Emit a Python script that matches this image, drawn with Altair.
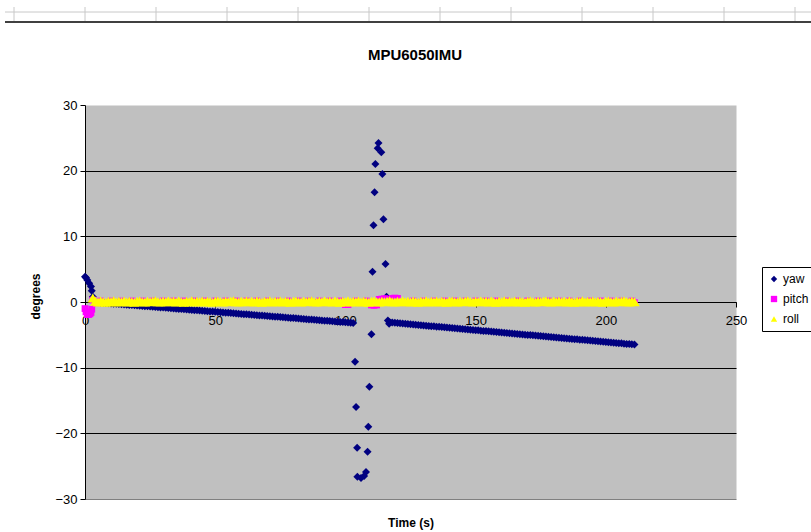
import altair as alt
import pandas as pd

series_names = ["yaw", "pitch", "roll"]
series_colors = ["#000080", "#FF00FF", "#FFFF00"]
series_shapes = ["diamond", "square", "triangle-up"]
series_sizes = [64, 46, 108]

x_ticks = [0, 50, 100, 150, 200, 250]
y_ticks = [-30, -20, -10, 0, 10, 20, 30]

chart_title = "MPU6050IMU"

# regular samples (seconds)
sample_t = [
    3, 4, 5, 6, 7, 8, 9, 10, 11, 12,
    13, 14, 15, 16, 17, 18, 19, 20, 21, 22,
    23, 24, 25, 26, 27, 28, 29, 30, 31, 32,
    33, 34, 35, 36, 37, 38, 39, 40, 41, 42,
    43, 44, 45, 46, 47, 48, 49, 50, 51, 52,
    53, 54, 55, 56, 57, 58, 59, 60, 61, 62,
    63, 64, 65, 66, 67, 68, 69, 70, 71, 72,
    73, 74, 75, 76, 77, 78, 79, 80, 81, 82,
    83, 84, 85, 86, 87, 88, 89, 90, 91, 92,
    93, 94, 95, 96, 97, 98, 99, 100, 101, 102,
    103, 104, 105, 106, 107, 108, 109, 110, 111, 112,
    113, 114, 115, 116, 117, 118, 119, 120, 121, 122,
    123, 124, 125, 126, 127, 128, 129, 130, 131, 132,
    133, 134, 135, 136, 137, 138, 139, 140, 141, 142,
    143, 144, 145, 146, 147, 148, 149, 150, 151, 152,
    153, 154, 155, 156, 157, 158, 159, 160, 161, 162,
    163, 164, 165, 166, 167, 168, 169, 170, 171, 172,
    173, 174, 175, 176, 177, 178, 179, 180, 181, 182,
    183, 184, 185, 186, 187, 188, 189, 190, 191, 192,
    193, 194, 195, 196, 197, 198, 199, 200, 201, 202,
    203, 204, 205, 206, 207, 208, 209, 210, 211,
]

N = None
yaw_v = [
    0.8, -0.02, -0.05, -0.09, -0.12, -0.15, -0.18, -0.21, -0.25, -0.28,
    -0.31, -0.34, -0.37, -0.41, -0.44, -0.47, -0.50, -0.53, -0.57, -0.60,
    -0.63, -0.66, -0.69, -0.73, -0.76, -0.79, -0.82, -0.85, -0.89, -0.92,
    -0.95, -0.98, -1.01, -1.05, -1.08, -1.11, -1.14, -1.17, -1.21, -1.24,
    -1.27, -1.30, -1.33, -1.37, -1.40, -1.43, -1.46, -1.49, -1.53, -1.56,
    -1.59, -1.62, -1.65, -1.69, -1.72, -1.75, -1.78, -1.81, -1.85, -1.88,
    -1.91, -1.94, -1.97, -2.01, -2.04, -2.07, -2.10, -2.13, -2.17, -2.20,
    -2.23, -2.26, -2.29, -2.33, -2.36, -2.39, -2.42, -2.45, -2.49, -2.52,
    -2.55, -2.58, -2.61, -2.65, -2.68, -2.71, -2.74, -2.77, -2.81, -2.84,
    -2.87, -2.90, -2.93, -2.97, -3.00, -3.03, -3.06, -3.09, -3.13, -3.16,
    -3.19, N, N, N, N, N, N, N, N, N,
    N, N, N, N, -3.10, -3.14, -3.17, -3.21, -3.24, -3.28,
    -3.32, -3.35, -3.39, -3.42, -3.46, -3.50, -3.53, -3.57, -3.60, -3.64,
    -3.68, -3.71, -3.75, -3.78, -3.82, -3.86, -3.89, -3.93, -3.96, -4.00,
    -4.04, -4.07, -4.11, -4.14, -4.18, -4.22, -4.25, -4.29, -4.32, -4.36,
    -4.40, -4.43, -4.47, -4.50, -4.54, -4.58, -4.61, -4.65, -4.68, -4.72,
    -4.76, -4.79, -4.83, -4.86, -4.90, -4.94, -4.97, -5.01, -5.04, -5.08,
    -5.12, -5.15, -5.19, -5.22, -5.26, -5.30, -5.33, -5.37, -5.40, -5.44,
    -5.48, -5.51, -5.55, -5.58, -5.62, -5.66, -5.69, -5.73, -5.76, -5.80,
    -5.84, -5.87, -5.91, -5.94, -5.98, -6.02, -6.05, -6.09, -6.12, -6.16,
    -6.20, -6.23, -6.27, -6.30, -6.34, -6.38, -6.41, -6.45, -6.48,
]

yaw_start_t = [0.0, 0.4, 0.9, 1.6, 2.3, 2.6]
yaw_start_v = [3.85, 3.7, 3.35, 2.85, 2.35, 1.7]

yaw_spike_t = [103.7, 104.1, 104.5, 104.6, 106.0, 107.2, 107.9, 108.5, 108.8, 109.2,
               110.0, 110.4, 110.8, 111.2, 111.5, 112.4, 112.7, 113.8, 114.2, 114.6,
               115.4, 115.8, 116.3, 116.8]
yaw_spike_v = [-9.1, -16.0, -22.2, -26.6, -26.8, -26.5, -25.9, -22.8, -19.0, -12.9,
               -4.9, 4.6, 11.7, 16.7, 21.0, 23.4, 24.2, 22.8, 19.5, 12.6,
               5.8, 0.8, -2.8, -3.3]

pitch_start_t = [0.0, 0.4, 0.9, 1.4, 1.9, 2.3, 2.6]
pitch_start_v = [-1.0, -1.5, -1.9, -1.9, -1.8, -1.6, -1.1]

pitch_v = [
    0.3, -0.1, -0.1, 0.15, -0.1, -0.05, -0.1, 0.15, -0.1, -0.1,
    -0.05, 0.15, -0.1, -0.1, -0.05, 0.15, -0.1, -0.1, -0.05, 0.15,
    -0.1, -0.1, -0.05, 0.15, -0.1, -0.1, -0.05, 0.15, -0.1, -0.1,
    -0.05, 0.15, -0.1, -0.1, -0.05, 0.15, -0.1, -0.1, -0.05, 0.15,
    -0.1, -0.1, -0.05, 0.15, -0.1, -0.1, -0.05, 0.15, -0.1, -0.1,
    -0.05, 0.15, -0.1, -0.1, -0.05, 0.15, -0.1, -0.1, -0.05, 0.15,
    -0.1, -0.1, -0.05, 0.15, -0.1, -0.1, -0.05, 0.15, -0.1, -0.1,
    -0.05, 0.15, -0.1, -0.1, -0.05, 0.15, -0.1, -0.1, -0.05, 0.15,
    -0.1, -0.1, -0.05, 0.15, -0.1, -0.1, -0.05, 0.15, -0.1, -0.1,
    -0.05, 0.15, -0.1, -0.1, -0.05, 0.15, -0.1, -0.4, -0.4, -0.1,
    -0.05, 0.15, -0.1, -0.1, -0.05, 0.15, -0.1, -0.45, -0.5, -0.45,
    0.4, 0.45, 0.5, 0.45, 0.4, 0.55, 0.6, 0.55, -0.1, -0.05,
    -0.1, -0.1, -0.05, 0.15, -0.1, -0.1, -0.05, 0.15, -0.1, -0.1,
    -0.05, 0.15, -0.1, -0.1, -0.05, 0.15, -0.1, -0.1, -0.05, 0.15,
    -0.1, -0.1, -0.05, 0.15, -0.1, -0.1, -0.05, 0.15, -0.1, -0.1,
    -0.05, 0.15, -0.1, -0.1, -0.05, 0.15, -0.1, -0.1, -0.05, 0.15,
    -0.1, -0.1, -0.05, 0.15, -0.1, -0.1, -0.05, 0.15, -0.1, -0.1,
    -0.05, 0.15, -0.1, -0.1, -0.05, 0.15, -0.1, -0.1, -0.05, 0.15,
    -0.1, -0.1, -0.05, 0.15, -0.1, -0.1, -0.05, 0.15, -0.1, -0.1,
    -0.05, 0.15, -0.1, -0.1, -0.05, 0.15, -0.1, -0.1, -0.05, 0.15,
    -0.1, -0.1, -0.05, 0.15, -0.1, -0.1, -0.05, 0.15, -0.1,
]

roll_v = [
    0.6, 0.1, 0.0, 0.15, 0.05, -0.05, 0.1, 0.05, 0.2, 0.0,
    0.1, 0.05, 0.15, 0.0, 0.1, 0.05, -0.05, 0.1, 0.15, 0.05,
    0.0, 0.1, 0.05, 0.1, 0.2, 0.05, 0.0, 0.1, 0.05, 0.15,
    0.05, 0.1, 0.0, 0.15, 0.05, -0.05, 0.1, 0.05, 0.2, 0.0,
    0.1, 0.05, 0.15, 0.0, 0.1, 0.05, -0.05, 0.1, 0.15, 0.05,
    0.0, 0.1, 0.05, 0.1, 0.2, 0.05, 0.0, 0.1, 0.05, 0.15,
    0.05, 0.1, 0.0, 0.15, 0.05, -0.05, 0.1, 0.05, 0.2, 0.0,
    0.1, 0.05, 0.15, 0.0, 0.1, 0.05, -0.05, 0.1, 0.15, 0.05,
    0.0, 0.1, 0.05, 0.1, 0.2, 0.05, 0.0, 0.1, 0.05, 0.15,
    0.05, 0.1, 0.0, 0.15, 0.05, -0.05, 0.1, 0.05, 0.2, 0.0,
    0.1, 0.05, 0.15, 0.0, 0.1, 0.05, -0.05, 0.1, 0.15, 0.05,
    0.0, 0.1, 0.05, 0.1, 0.2, 0.05, 0.0, 0.1, 0.05, 0.15,
    0.05, 0.1, 0.0, 0.15, 0.05, -0.05, 0.1, 0.05, 0.2, 0.0,
    0.1, 0.05, 0.15, 0.0, 0.1, 0.05, -0.05, 0.1, 0.15, 0.05,
    0.0, 0.1, 0.05, 0.1, 0.2, 0.05, 0.0, 0.1, 0.05, 0.15,
    0.05, 0.1, 0.0, 0.15, 0.05, -0.05, 0.1, 0.05, 0.2, 0.0,
    0.1, 0.05, 0.15, 0.0, 0.1, 0.05, -0.05, 0.1, 0.15, 0.05,
    0.0, 0.1, 0.05, 0.1, 0.2, 0.05, 0.0, 0.1, 0.05, 0.15,
    0.05, 0.1, 0.0, 0.15, 0.05, -0.05, 0.1, 0.05, 0.2, 0.0,
    0.1, 0.05, 0.15, 0.0, 0.1, 0.05, -0.05, 0.1, 0.15, 0.05,
    0.0, 0.1, 0.05, 0.1, 0.2, 0.05, 0.0, 0.1, 0.05,
]

# ---- build table ----
rows = []
for t, v in zip(yaw_start_t, yaw_start_v):
    rows.append({"t": t, "v": v, "series": "yaw"})
for t, v in zip(sample_t, yaw_v):
    if v is not None:
        rows.append({"t": t, "v": v, "series": "yaw"})
for t, v in zip(yaw_spike_t, yaw_spike_v):
    rows.append({"t": t, "v": v, "series": "yaw"})
for t, v in zip(pitch_start_t, pitch_start_v):
    rows.append({"t": t, "v": v, "series": "pitch"})
for t, v in zip(sample_t, pitch_v):
    rows.append({"t": t, "v": v, "series": "pitch"})
for t, v in zip(sample_t, roll_v):
    rows.append({"t": t, "v": v, "series": "roll"})
df = pd.DataFrame(rows)

FONT = "Liberation Sans"

grid_color = {"condition": {"test": "datum.value === -30", "value": "#808080"}, "value": "black"}
grid_opacity = {"condition": {"test": "datum.value === 30", "value": 0}, "value": 1}

legend_opts = dict(title=None, orient="none", legendX=677, legendY=162,
                   fillColor="white", strokeColor="black", padding=6,
                   rowPadding=8, labelFontSize=12, labelFont=FONT,
                   labelColor="black", symbolSize=40, labelOffset=3)

base = alt.Chart(df).encode(
    x=alt.X("t:Q",
            scale=alt.Scale(domain=[0, 250], nice=False, zero=False),
            axis=alt.Axis(values=x_ticks, offset=-197, title="Time (s)",
                          titleY=220, titleBaseline="middle", titleFontWeight="bold",
                          titleFontSize=12, titleFont=FONT, titleColor="black",
                          grid=False, tickSize=5, tickColor="black", domainColor="black",
                          labelPadding=7, labelFontSize=13, labelFont=FONT,
                          labelColor="black", labelFlush=False)),
    y=alt.Y("v:Q",
            scale=alt.Scale(domain=[-30, 30], nice=False, zero=False),
            axis=alt.Axis(values=y_ticks, title="degrees", titleX=-50, titleY=191,
                          titleAngle=270, titleAlign="center", titleBaseline="middle",
                          titleFontWeight="bold", titleFontSize=12, titleFont=FONT,
                          titleColor="black",
                          tickSize=5, tickColor="black", domainColor="black",
                          labelPadding=3, labelFontSize=13, labelFont=FONT,
                          labelColor="black", grid=True,
                          gridColor=grid_color, gridOpacity=grid_opacity)),
    color=alt.Color("series:N",
                    scale=alt.Scale(domain=series_names, range=series_colors),
                    legend=alt.Legend(**legend_opts)),
    shape=alt.Shape("series:N",
                    scale=alt.Scale(domain=series_names, range=series_shapes),
                    legend=alt.Legend(**legend_opts)),
)

# one layer per series, drawn yaw -> pitch -> roll (roll on top)
series_layers = []
for name, sz in zip(series_names, series_sizes):
    series_layers.append(
        base.transform_filter(alt.datum.series == name)
        .mark_point(filled=True, opacity=1, size=sz)
    )

# chart title drawn as text above the plot
one = alt.Data(values=[{"k": 1}])
title_mark = alt.Chart(one).mark_text(
    text=chart_title, font=FONT, fontSize=15, fontWeight="bold", color="black",
    align="center", baseline="middle",
).encode(x=alt.value(330), y=alt.value(-50))

# spreadsheet cell borders above the chart (decoration)
sheet_cols = [-71, 0, 71, 142, 213, 284, 355, 426, 497, 568, 639, 710]
decor = []
decor.append(alt.Chart(one).mark_rule(color="#c8c8c8", strokeWidth=1).encode(
    x=alt.value(-80), x2=alt.value(726), y=alt.value(-93)))
for c in sheet_cols:
    decor.append(alt.Chart(one).mark_rule(color="#c8c8c8", strokeWidth=1).encode(
        x=alt.value(c), y=alt.value(-98), y2=alt.value(-83)))
decor.append(alt.Chart(one).mark_rule(color="#404040", strokeWidth=2).encode(
    x=alt.value(-80), x2=alt.value(726), y=alt.value(-83)))

chart = alt.layer(*decor, title_mark, *series_layers).properties(
    width=651,
    height=394,
    autosize=alt.AutoSizeParams(type="none"),
    padding={"left": 85, "top": 105, "right": 75, "bottom": 33},
    background="white",
).configure_view(fill="#C0C0C0", stroke="transparent")

chart.save("out.html", embed_options={"renderer": "svg", "actions": False})
